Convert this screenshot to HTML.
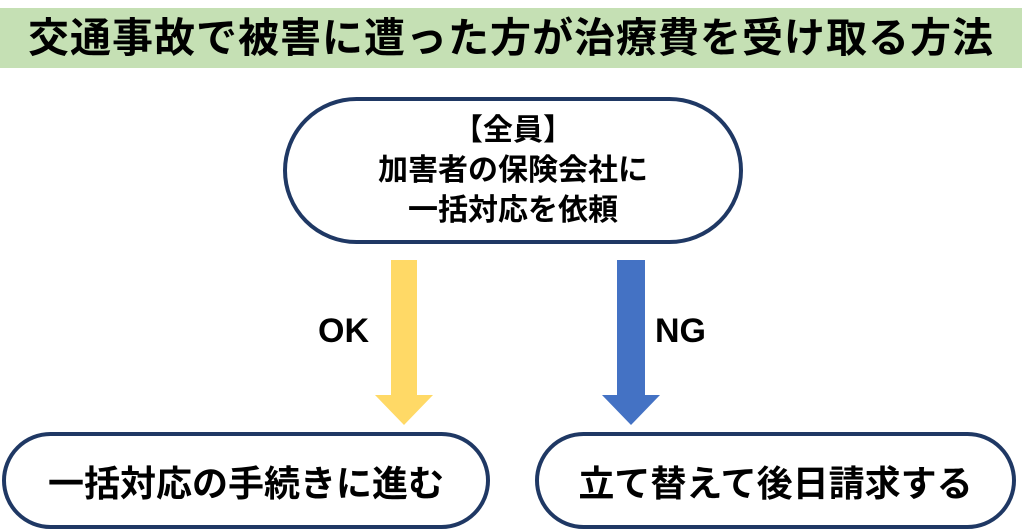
<!DOCTYPE html>
<html><head><meta charset="utf-8"><style>
body{margin:0;width:1024px;height:531px;background:#fff;position:relative;overflow:hidden;font-family:"Liberation Sans","Noto Sans CJK JP",sans-serif;font-weight:bold;color:#000}
.t{position:absolute;left:0;top:8px;width:1022px;height:60px;background:#c5e0b4;text-align:center;line-height:60px;font-size:41px;letter-spacing:1px}
.n{position:absolute;box-sizing:border-box;border:4px solid #1f3864;border-radius:80px;background:#fff;display:flex;align-items:center;justify-content:center;text-align:center}
.l{position:absolute;font-size:34px;font-family:"Liberation Sans",sans-serif}
</style></head><body>
<div class="t">交通事故で被害に遭った方が治療費を受け取る方法</div>
<div class="n" style="left:283px;top:97px;width:460px;height:147px;font-size:30px;line-height:40px">【全員】<br>加害者の保険会社に<br>一括対応を依頼</div>
<svg style="position:absolute;left:0;top:0" width="1024" height="531">
<polygon points="391,260 417,260 417,395 433,395 404,425 375,395 391,395" fill="#ffd966"/>
<polygon points="617,260 645,260 645,395 660,395 631,425 602,395 617,395" fill="#4472c4"/>
</svg>
<div class="l" style="left:318px;top:312px">OK</div>
<div class="l" style="left:655px;top:312px">NG</div>
<div class="n" style="left:2px;top:432px;width:488px;height:97px;font-size:36px;border-radius:50px">一括対応の手続きに進む</div>
<div class="n" style="left:535px;top:432px;width:481px;height:97px;font-size:36px;border-radius:50px">立て替えて後日請求する</div>
</body></html>
